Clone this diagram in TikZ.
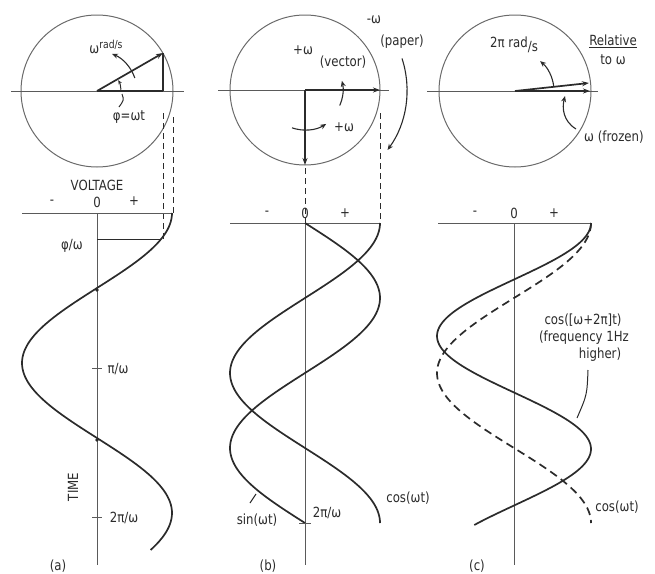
\documentclass[tikz,border=0pt]{standalone}
\usepackage{fontspec}
\setmainfont{DejaVu Sans}[FakeStretch=0.84]
\usetikzlibrary{arrows.meta}
\definecolor{ink}{HTML}{2B2B2B}
\definecolor{circgray}{HTML}{6A6A6A}
\definecolor{axisgray}{HTML}{5A5A5A}
\begin{document}
\begin{tikzpicture}[x=1pt,y=-1pt,
  curve/.style={line width=1.7pt, draw=ink},
  dcurve/.style={line width=1.7pt, draw=ink, dash pattern=on 8pt off 5pt},
  axisline/.style={line width=0.9pt, draw=axisgray},
  circ/.style={line width=1pt, draw=circgray},
  vec/.style={line width=1.7pt, draw=ink, -{Stealth[length=7pt,width=5pt]}},
  rot/.style={line width=1.1pt, draw=ink, -{Stealth[length=6pt,width=5pt]}},
  guide/.style={line width=1pt, draw=ink, dash pattern=on 6pt off 4pt},
  leader/.style={line width=1pt, draw=ink},
  lbl/.style={font=\fontsize{14}{16}\selectfont, text=ink, inner sep=0pt},
]
\useasboundingbox (0,0) rectangle (655,573);

% ================= (a) =================
\coordinate (ca) at (97,91);
\draw[circ] (ca) circle[radius=76];
\draw[axisline] (11,91) -- (184,91);
\coordinate (ta) at (163,53);
\coordinate (tafoot) at (163,91);
\draw[vec] (ca) -- (ta);
\draw[line width=1.1pt, draw=ink] (ta) -- (tafoot);
\draw[line width=1.7pt, draw=ink] (ca) -- (tafoot);
\draw[rot] (ca) ++(-19:40) arc[start angle=-19, end angle=-68, radius=40];
\draw[line width=1pt, draw=ink, -{Stealth[length=4pt,width=3.5pt]}] (ca) ++(-3:24) arc[start angle=-3, end angle=-27, radius=24];
\draw[leader] (122,94) .. controls (124,100) .. (119,107);
\node[lbl] (wrad) at (106,47) {ω\raisebox{5pt}{\fontsize{11}{13}\selectfont rad/s}};
\node[lbl] (phiwt) at (129,117) {φ=ωt};

\coordinate (ga0) at (97,213);
\coordinate (ga1) at (97,565);
\draw[guide] (163,113) -- (163,239);
\draw[guide] (173,117) -- (173,213);
\draw[axisline] (22,213) -- (173,213);
\draw[axisline] (ga0) -- (ga1);
\draw[line width=1pt, draw=ink] (97,239) -- (161,239);
\draw[curve] plot[domain=0:337, samples=120, smooth] ({97+75*cos(1.2*\x)}, {213+\x});
\fill[ink] (97,290) circle (1.8);
\fill[ink] (97,440) circle (1.8);
\draw[axisline] (92,368) -- (102,368);
\draw[axisline] (92,517) -- (102,517);
\node[lbl] (volt) at (97,185) {VOLTAGE};
\node[lbl] (am) at (52,202) {-};
\node[lbl] (a0) at (97,202) {0};
\node[lbl] (ap) at (134,201) {+};
\node[lbl] (phiw) at (72,246) {φ/ω};
\node[lbl] (piw) at (118,369) {π/ω};
\node[lbl, rotate=90] (time) at (73,487) {TIME};
\node[lbl] (twopiw) at (124,518) {2π/ω};
\node[lbl] (la) at (58,566) {(a)};

% ================= (b) =================
\coordinate (cb) at (305,90);
\draw[circ] (cb) circle[radius=75];
\draw[axisline] (218,90) -- (389,90);
\coordinate (tbr) at (380,90);
\coordinate (tbd) at (305,165);
\draw[vec] (cb) -- (tbr);
\draw[vec] (cb) -- (tbd);
\draw[rot] (cb) ++(24:38) arc[start angle=24, end angle=-14, radius=38];
\draw[rot] (cb) ++(109:40) arc[start angle=109, end angle=58, radius=40];
\draw[rot] (cb) ++(-18:102) arc[start angle=-18, end angle=36, radius=102];
\node[lbl] (pw1) at (303,50) {+ω};
\node[lbl] (vecl) at (343,62) {(vector)};
\node[lbl] (pw2) at (344,127) {+ω};
\node[lbl] (mw) at (374,20) {-ω};
\node[lbl] (paper) at (402,42) {(paper)};

\coordinate (gb0) at (305,223);
\coordinate (gb1) at (305,565);
\draw[guide] (305,168) -- (305,223);
\draw[guide] (380,113) -- (380,223);
\draw[axisline] (230,223) -- (380,223);
\draw[axisline] (gb0) -- (gb1);
\draw[curve] plot[domain=0:300, samples=120, smooth] ({305+75*cos(1.2*\x)}, {223+\x});
\draw[curve] plot[domain=0:300, samples=120, smooth] ({305+75*sin(1.2*\x)}, {223+\x});
\draw[axisline] (299,523) -- (311,523);
\node[lbl] (bm) at (267,213) {-};
\node[lbl] (b0) at (305,213) {0};
\node[lbl] (bp) at (345,213) {+};
\node[lbl] (sinl) at (257,520) {sin(ωt)};
\draw[leader] (250,503) -- (256,494);
\node[lbl] (twopib) at (327,513) {2π/ω};
\node[lbl] (cosb) at (408,498) {cos(ωt)};
\node[lbl] (lb) at (268,566) {(b)};

% ================= (c) =================
\coordinate (cc) at (515,91);
\draw[circ] (cc) circle[radius=76];
\draw[axisline] (427,91) -- (598,91);
\coordinate (tc1) at (590,91);
\coordinate (tc2) at (589,83);
\draw[vec] (cc) -- (tc1);
\draw[vec] (cc) -- (tc2);
\draw[rot] (cc) ++(-7:39) arc[start angle=-7, end angle=-50, radius=39];
\draw[rot] (576,129) .. controls (563,121) and (562,108) .. (565,96);
\node[lbl] (twopirad) at (514,45) {2π rad\raisebox{-4pt}{/s}};
\node[lbl] (rel) at (613,40) {Relative};
\draw[leader] ([yshift=-2pt]rel.south west) -- ([yshift=-2pt]rel.south east);
\node[lbl] (tow) at (613,60) {to ω};
\node[lbl] (frozen) at (614,137) {ω (frozen)};

\coordinate (gc0) at (514,223);
\coordinate (gc1) at (514,565);
\draw[axisline] (438,223) -- (592,223);
\draw[axisline] (gc0) -- (gc1);
\draw[curve] plot[domain=0:302, samples=140, smooth] ({514+77*cos(1.59292*\x)}, {223+\x});
\draw[dcurve] plot[domain=0:300, samples=120, smooth] ({514+77*cos(1.2*\x)}, {223+\x});
\node[lbl] (cm) at (475,213) {-};
\node[lbl] (c0) at (514,213) {0};
\node[lbl] (cp) at (554,213) {+};
\node[lbl] (cosc1) at (583,320) {cos([ω+2π]t)};
\node[lbl] (cosc2) at (584,338) {(frequency 1Hz};
\node[lbl] (cosc3) at (600,355) {higher)};
\draw[leader] (588,370) .. controls (587,395) .. (577,418);
\node[lbl] (cosc) at (617,507) {cos(ωt)};
\node[lbl] (lc) at (477,566) {(c)};
\end{tikzpicture}
\end{document}
